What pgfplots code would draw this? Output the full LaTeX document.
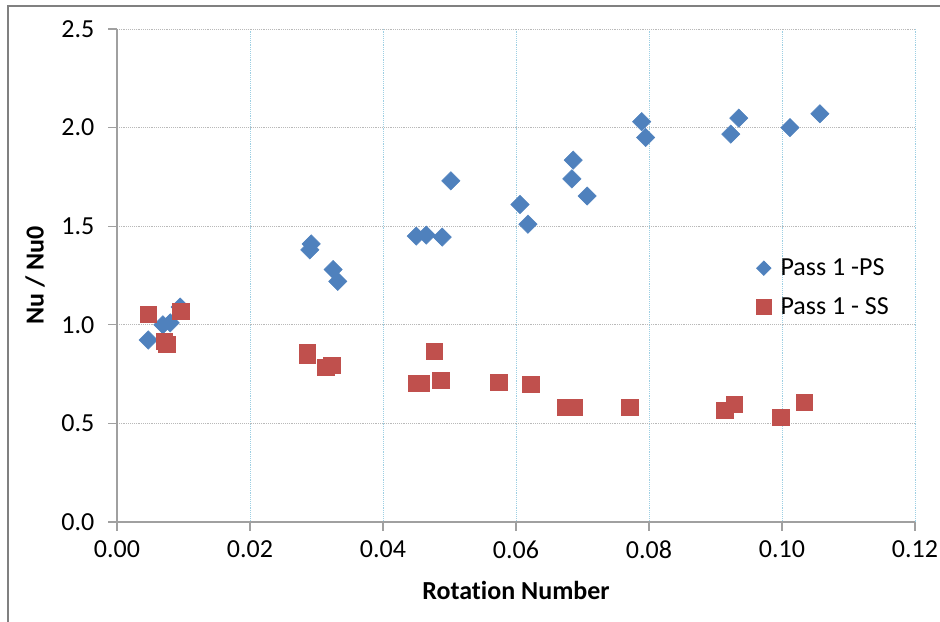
\documentclass[border=0pt]{standalone}
\usepackage{pgfplots}
\pgfplotsset{compat=1.18}
\usepackage{fontspec}
\setmainfont[Ligatures=NoCommon]{Carlito}
\definecolor{psblue}{HTML}{4F81BD}
\definecolor{ssred}{HTML}{C0504D}
\definecolor{gridblue}{HTML}{9DCFE3}
\definecolor{axgray}{HTML}{A0A0A0}
\begin{document}
\begin{tikzpicture}
\begin{axis}[
  name=ax,
  scale only axis,
  width=598.5pt, height=369.75pt,
  xmin=0, xmax=0.12, ymin=0, ymax=2.5,
  xtick={0,0.02,0.04,0.06,0.08,0.10,0.12},
  ytick={0,0.5,1.0,1.5,2.0,2.5},
  scaled x ticks=false,
  /pgf/number format/assume math mode=true,
  xticklabel style={/pgf/number format/.cd, fixed, fixed zerofill, precision=2, /tikz/.cd, yshift=-4pt},
  yticklabel style={/pgf/number format/.cd, fixed, fixed zerofill, precision=1, /tikz/.cd, xshift=-7pt},
  tick label style={font=\fontsize{19.5}{23}\selectfont},
  label style={font=\fontsize{19.5}{23}\selectfont\bfseries},
  axis x line=bottom, axis y line=left,
  axis line style={-, draw=axgray, line width=0.8pt},
  tick style={draw=axgray, line width=0.8pt},
  tick align=outside,
  major tick length=6.5pt,
  xmajorgrids, ymajorgrids,
  x grid style={gridblue, densely dotted, line width=0.7pt},
  y grid style={gray!55, densely dotted, line width=0.7pt},
  xlabel={Rotation Number},
  ylabel={Nu / Nu0},
  xlabel style={at={(rel axis cs:0.5,0)}, anchor=center, yshift=-51pt},
  ylabel style={at={(rel axis cs:0,0.5)}, anchor=center, yshift=61.5pt},
  clip=false,
  legend style={draw=none, fill=none, at={(rel axis cs:0.801,0.54)}, anchor=north west,
    font=\fontsize{19.5}{23}\selectfont, row sep=11pt, inner sep=0pt,
    /tikz/every odd column/.append style={column sep=5pt}},
  legend cell align=left,
]
\addplot[only marks, mark=square*, mark size=4.85pt, mark options={rotate=45, fill=psblue, draw=psblue},
  legend image post style={mark size=3.9pt}]
coordinates {
(0.0047,0.923) (0.0069,1.00) (0.0080,1.01) (0.0095,1.09)
(0.0290,1.38) (0.0292,1.41) (0.0325,1.28) (0.0332,1.22)
(0.0450,1.45) (0.0465,1.455) (0.0489,1.445) (0.0502,1.73)
(0.0606,1.61) (0.0618,1.51) (0.0686,1.835) (0.0684,1.74) (0.0707,1.653)
(0.0789,2.03) (0.0795,1.95) (0.0923,1.967) (0.0935,2.048)
(0.1012,2.00) (0.1057,2.07)
};
\addlegendentry{Pass 1 -PS}
\addplot[only marks, mark=square*, mark size=6.1pt, mark options={fill=ssred, draw=ssred},
  legend image post style={mark size=5.5pt}]
coordinates {
(0.0047,1.055) (0.0096,1.07) (0.0071,0.918) (0.0075,0.90)
(0.0286,0.847) (0.0286,0.862) (0.0314,0.786) (0.0323,0.796)
(0.0477,0.867) (0.0487,0.72) (0.0450,0.705) (0.0457,0.705)
(0.0574,0.71) (0.0622,0.70) (0.0674,0.583) (0.0687,0.583)
(0.0771,0.583) (0.0914,0.568) (0.0928,0.598) (0.0998,0.532) (0.1033,0.608)
};
\addlegendentry{Pass 1 - SS}
\end{axis}
\pgfresetboundingbox
\useasboundingbox ([shift={(-87.75pt,-74.25pt)}]ax.south west) rectangle ([shift={(18.75pt,21.75pt)}]ax.north east);
\draw[gray, line width=0.9pt] ([shift={(-81.75pt,-80pt)}]ax.south west) -- ([shift={(-81.75pt,17.25pt)}]ax.north west) -- ([shift={(30pt,17.25pt)}]ax.north east);
\end{tikzpicture}
\end{document}
